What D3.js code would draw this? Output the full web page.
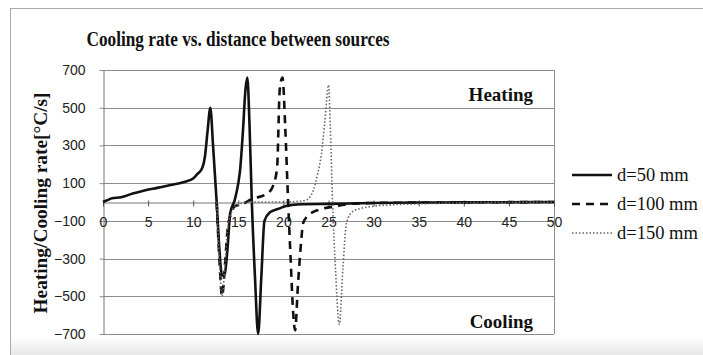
<!DOCTYPE html>
<html>
<head>
<meta charset="utf-8">
<script src="https://cdn.jsdelivr.net/npm/d3@7"></script>
<style>
  body { margin: 0; background: #fff; }
  svg { display: block; }
</style>
</head>
<body>
<div id="chart"></div>
<script>
// values
const yTicks = [-700, -500, -300, -100, 100, 300, 500, 700];
const xTicks = [0, 5, 10, 15, 20, 25, 30, 35, 40, 45, 50];

const x50 = [0, 0.5, 1, 2, 3.3, 4.5, 6, 7.5, 8.9, 10, 10.5, 11, 11.3, 11.6, 11.9, 12.2, 12.6, 12.9, 13.2, 13.5, 13.8, 14.1, 14.6, 15, 15.2, 15.5, 15.8, 16, 16.25, 16.5, 16.85, 17.2, 17.55, 17.9, 18.5, 19.5, 20.4, 22, 25, 30, 35, 40, 45, 50];
const y50 = [0, 10, 20, 25, 45, 60, 75, 90, 105, 125, 150, 180, 240, 380, 500, 300, 0, -250, -390, -380, -250, -60, 10, 100, 170, 365, 600, 660, 400, 0, -400, -700, -400, -100, -55, -35, -20, -12, -10, -5, -3, -2, -1, 0];

const x100 = [12.6, 12.9, 13.2, 13.5, 13.8, 14.2, 14.7, 15.2, 16.5, 18.2, 18.8, 19.3, 19.6, 19.9, 20.2, 20.5, 20.8, 21.1, 21.3, 21.6, 21.9, 22.2, 22.8, 24, 25.5, 27, 30, 40, 50];
const y100 = [0, -300, -500, -350, -150, -60, -20, -15, 15, 45, 80, 180, 600, 660, 400, 30, -300, -600, -680, -450, -250, -110, -70, -40, -25, -12, -5, -2, 0];

const x150 = [12.6, 12.9, 13.2, 13.5, 13.8, 14.2, 14.7, 15.5, 16.5, 20, 21.5, 22.5, 23.3, 23.8, 24.2, 24.6, 25, 25.2, 25.45, 25.8, 26.2, 26.6, 27, 27.7, 28.5, 29.6, 32, 35, 40, 50];
const y150 = [0, -300, -500, -350, -150, -60, -20, -5, 0, 0, 3, 10, 60, 150, 250, 430, 620, 400, 0, -380, -650, -350, -110, -50, -35, -25, -15, -10, -4, 0];

const seriesNames = ["d=50 mm", "d=100 mm", "d=150 mm"];

const series = [
  { name: seriesNames[0], xs: x50, ys: y50, stroke: "#111", width: 2.6, dash: null },
  { name: seriesNames[1], xs: x100, ys: y100, stroke: "#111", width: 2.6, dash: "8,6" },
  { name: seriesNames[2], xs: x150, ys: y150, stroke: "#666", width: 1.6, dash: "1.5,2" }
];

const W = 703, H = 355;
const plot = { left: 103, right: 554, top: 70, bottom: 334 };
const serif = "Liberation Serif, Times New Roman, serif";
const sans = "Liberation Sans, Arial, sans-serif";

const svg = d3.select("#chart").append("svg")
  .attr("width", W)
  .attr("height", H);

// page frame with the grey fade at the bottom
const defs = svg.append("defs");
const grad = defs.append("linearGradient")
  .attr("id", "fade").attr("x1", 0).attr("x2", 0).attr("y1", 0).attr("y2", 1);
grad.append("stop").attr("offset", "0%").attr("stop-color", "#fff");
grad.append("stop").attr("offset", "100%").attr("stop-color", "#e4e4e4");

svg.append("rect")
  .attr("x", 10.5).attr("y", 337).attr("width", W).attr("height", 20)
  .attr("fill", "url(#fade)");
svg.append("rect")
  .attr("x", 10.5).attr("y", 8.5).attr("width", W).attr("height", H)
  .attr("fill", "none").attr("stroke", "#aaa");

// scales
const x = d3.scaleLinear().domain([0, 50]).range([plot.left, plot.right]);
const y = d3.scaleLinear().domain([-700, 700]).range([plot.bottom, plot.top]);

const g = svg.append("g");

// grid lines
g.selectAll(".grid")
  .data(yTicks)
  .enter().append("line")
  .attr("class", "grid")
  .attr("x1", plot.left).attr("x2", plot.right)
  .attr("y1", d => Math.round(y(d)) + 0.5).attr("y2", d => Math.round(y(d)) + 0.5)
  .attr("stroke", "#8c8c8c").attr("stroke-width", 1);

// plot border (right side)
g.append("line")
  .attr("x1", plot.right + 0.5).attr("x2", plot.right + 0.5)
  .attr("y1", plot.top).attr("y2", plot.bottom)
  .attr("stroke", "#8c8c8c");

// y axis
const yAxis = d3.axisLeft(y).tickValues(yTicks).tickSize(4).tickSizeOuter(0).tickPadding(14);
g.append("g")
  .attr("transform", `translate(${plot.left + 0.5},0)`)
  .call(yAxis)
  .call(s => s.select(".domain").attr("stroke", "#777"))
  .call(s => s.selectAll(".tick line").attr("stroke", "#8c8c8c"))
  .call(s => s.selectAll("text")
    .attr("font-family", sans)
    .attr("font-size", 14).attr("fill", "#222"));

// x axis sits at y = 0
const xAxis = d3.axisBottom(x).tickValues(xTicks).tickSize(4).tickPadding(11).tickSizeOuter(0);
g.append("g")
  .attr("transform", `translate(0,${Math.round(y(0)) + 0.5})`)
  .call(xAxis)
  .call(s => s.select(".domain").attr("stroke", "#777"))
  .call(s => s.selectAll(".tick line").attr("stroke", "#555").attr("y1", -2))
  .call(s => s.selectAll("text")
    .attr("font-family", sans)
    .attr("font-size", 14).attr("fill", "#222"));

// series lines
const line = d3.line()
  .curve(d3.curveMonotoneX)
  .x(d => x(d[0]))
  .y(d => y(d[1]));

g.selectAll(".series")
  .data(series)
  .enter().append("path")
  .attr("class", "series")
  .attr("d", s => line(s.xs.map((v, i) => [v, s.ys[i]])))
  .attr("fill", "none")
  .attr("stroke", s => s.stroke)
  .attr("stroke-width", s => s.width)
  .attr("stroke-dasharray", s => s.dash)
  .attr("stroke-linejoin", "round");

// title
svg.append("text")
  .attr("x", 238).attr("y", 46)
  .attr("text-anchor", "middle")
  .attr("font-family", serif)
  .attr("font-weight", "bold").attr("font-size", 20).attr("fill", "#111")
  .attr("textLength", 303).attr("lengthAdjust", "spacingAndGlyphs")
  .text("Cooling rate vs. distance between sources");

// y title
svg.append("text")
  .attr("transform", "translate(47,203) rotate(-90)")
  .attr("text-anchor", "middle")
  .attr("font-family", serif)
  .attr("font-weight", "bold").attr("font-size", 18).attr("fill", "#111")
  .attr("textLength", 221).attr("lengthAdjust", "spacingAndGlyphs")
  .text("Heating/Cooling rate[°C/s]");

// region labels
svg.append("text")
  .attr("x", 533).attr("y", 101).attr("text-anchor", "end")
  .attr("font-family", serif)
  .attr("font-weight", "bold").attr("font-size", 19).attr("fill", "#111")
  .text("Heating");
svg.append("text")
  .attr("x", 533).attr("y", 328).attr("text-anchor", "end")
  .attr("font-family", serif)
  .attr("font-weight", "bold").attr("font-size", 19).attr("fill", "#111")
  .text("Cooling");

// legend
const legend = svg.append("g").attr("transform", "translate(572,175)");
const item = legend.selectAll(".item")
  .data(series)
  .enter().append("g")
  .attr("class", "item")
  .attr("transform", (d, i) => `translate(0,${i * 29})`);
item.append("line")
  .attr("x1", 0).attr("x2", 40).attr("y1", 0).attr("y2", 0)
  .attr("stroke", d => d.stroke)
  .attr("stroke-width", d => d.width)
  .attr("stroke-dasharray", d => d.dash);
item.append("text")
  .attr("x", 45).attr("y", 6)
  .attr("font-family", serif)
  .attr("font-size", 18.5).attr("fill", "#111")
  .text(d => d.name);
</script>
</body>
</html>
